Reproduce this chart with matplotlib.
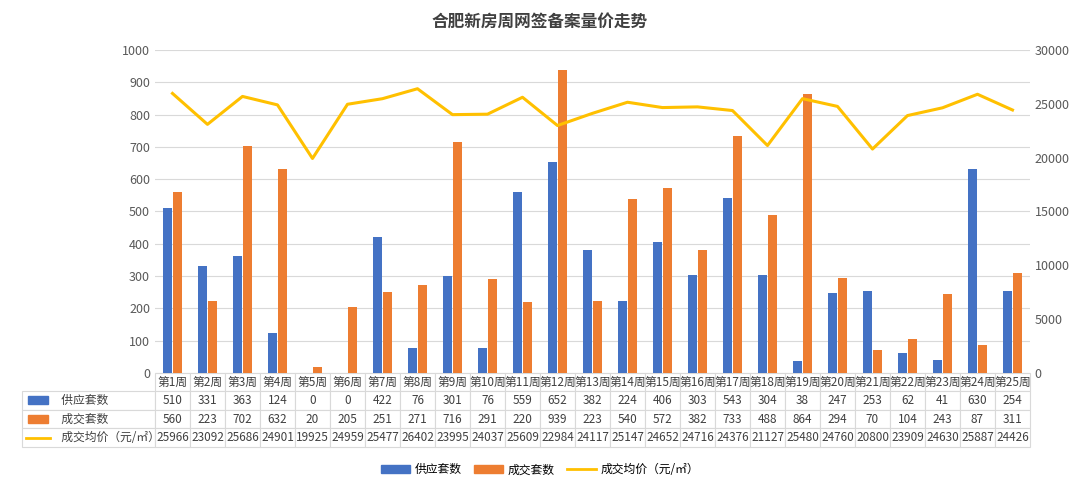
import matplotlib
matplotlib.use("Agg")
import matplotlib.pyplot as plt
import numpy as np
from matplotlib.patches import Rectangle
from matplotlib.lines import Line2D

plt.rcParams['font.family'] = ['Noto Sans CJK SC', 'DejaVu Sans']

weeks = [f"第{i}周" for i in range(1, 26)]
supply = [510, 331, 363, 124, 0, 0, 422, 76, 301, 76, 559, 652, 382, 224, 406, 303, 543, 304, 38, 247, 253, 62, 41, 630, 254]
deals = [560, 223, 702, 632, 20, 205, 251, 271, 716, 291, 220, 939, 223, 540, 572, 382, 733, 488, 864, 294, 70, 104, 243, 87, 311]
price = [25966, 23092, 25686, 24901, 19925, 24959, 25477, 26402, 23995, 24037, 25609, 22984, 24117, 25147, 24652, 24716, 24376, 21127, 25480, 24760, 20800, 23909, 24630, 25887, 24426]

blue = '#4472C4'; orange = '#ED7D31'; gold = '#FFC000'
fig = plt.figure(figsize=(10.8, 4.92), dpi=100)
ax = fig.add_axes([0.1435, 0.2419, 0.8102, 0.6565])
x = np.arange(len(weeks))
w = 0.26
ax.bar(x - 0.14, supply, w, color=blue)
ax.bar(x + 0.14, deals, w, color=orange)
ax.set_xlim(-0.5, 24.5)
ax.set_ylim(0, 1000)
ax.set_yticks(range(0, 1001, 100))
ax.yaxis.grid(True, color='#D9D9D9', lw=0.8)
ax.set_axisbelow(True)
ax.set_xticks([])
for s in ax.spines.values():
    s.set_visible(False)
ax.tick_params(axis='y', length=0, labelsize=9, colors='#595959')
ax2 = ax.twinx()
ax2.plot(x, price, color=gold, lw=2.2)
ax2.set_ylim(0, 30000)
ax2.set_yticks(range(0, 30001, 5000))
ax2.tick_params(axis='y', length=0, labelsize=9, colors='#595959')
for s in ax2.spines.values():
    s.set_visible(False)

labels = ["供应套数", "成交套数", "成交均价（元/㎡）"]
cells = [[""] + weeks,
         ["          " + labels[0]] + [str(v) for v in supply],
         ["          " + labels[1]] + [str(v) for v in deals],
         ["          " + labels[2]] + [str(v) for v in price]]
tb = ax.table(cellText=cells, bbox=[-0.152, -0.229, 1.152, 0.229], cellLoc='center')
tb.auto_set_font_size(False)
lw_first = 133/1008
for (r, c), cell in tb.get_celld().items():
    cell.set_edgecolor('#D9D9D9')
    cell.set_linewidth(0.8)
    cell.get_text().set_fontsize(8.5)
    cell.get_text().set_color('#404040')
    cell.set_width(lw_first if c == 0 else (1 - lw_first) / 25)
    if c == 0:
        cell.get_text().set_ha('left')
        cell._loc = 'left'
    if r == 0 and c == 0:
        cell.set_edgecolor('white')
for i, (col, kind) in enumerate([(blue, 'p'), (orange, 'p'), (gold, 'l')]):
    yc = 1 - (400 + i * 19) / 492
    if kind == 'p':
        fig.patches.append(Rectangle((28/1080, yc - 0.008), 20/1080, 0.016, color=col, transform=fig.transFigure))
    else:
        fig.lines.append(Line2D([26/1080, 50/1080], [yc, yc], color=col, lw=2, transform=fig.transFigure))

fig.text(0.5, 0.955, "合肥新房周网签备案量价走势", ha='center', va='center', fontsize=12, fontweight='bold', color='#404040')
handles = [Rectangle((0, 0), 1, 1, color=blue), Rectangle((0, 0), 1, 1, color=orange), Line2D([], [], color=gold, lw=2)]
fig.legend(handles, ["供应套数", "成交套数", "成交均价（元/㎡）"], loc='center', bbox_to_anchor=(0.5, 0.045),
           ncol=3, frameon=False, fontsize=8.5, handlelength=2.5, handleheight=0.6, handletextpad=0.4, columnspacing=1.0)
fig.savefig("out.png", dpi=100)
